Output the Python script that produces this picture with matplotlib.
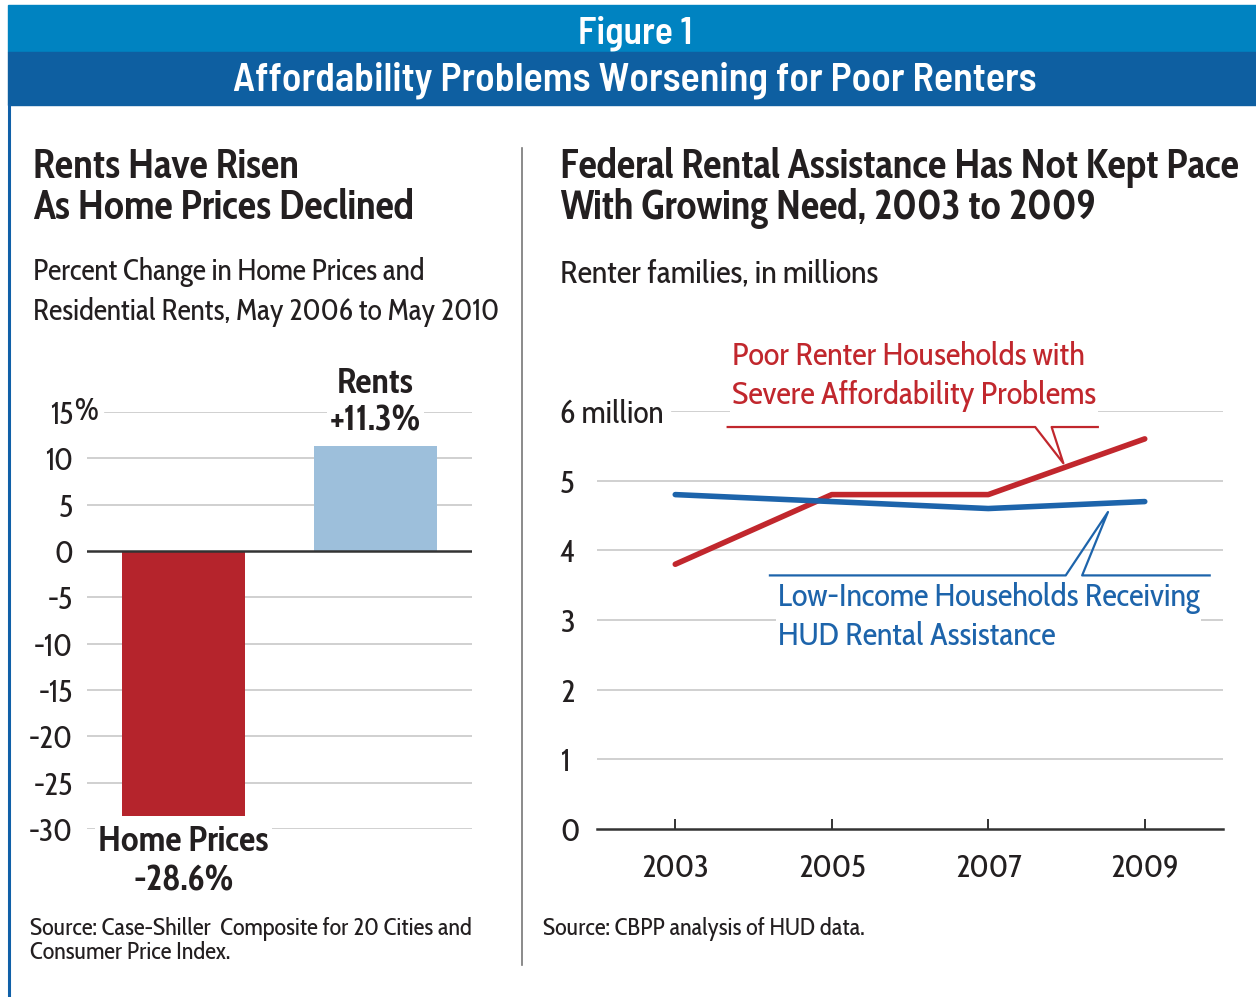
import matplotlib
matplotlib.use("Agg")
import matplotlib.pyplot as plt
from matplotlib.patches import Rectangle
from matplotlib.lines import Line2D

W, H = 1256, 997

# left panel data
bar_names = ["Home Prices", "Rents"]
bar_values = [-28.6, 11.3]
bar_value_labels = ["-28.6%", "+11.3%"]
pct_ticks = [15, 10, 5, 0, -5, -10, -15, -20, -25, -30]

# right panel data
years = [2003, 2005, 2007, 2009]
poor_renters = [3.8, 4.8, 4.8, 5.6]
hud_assisted = [4.8, 4.7, 4.6, 4.7]
mil_ticks = [0, 1, 2, 3, 4, 5, 6]

DARK = "#231f20"
RED = "#c1272d"
BLUE = "#1d64ab"
GRID = "#c8c8c8"
HEAD_FONT = ["Barlow Semi Condensed", "DejaVu Sans"]

plt.rcParams["font.family"] = ["Cabin Condensed", "DejaVu Sans"]


def fx(x):
    return x / W


def fy(y):
    return 1 - y / H


def box(x0, y0, x1, y1):
    # figure-fraction rect from pixel corners
    return [fx(x0), fy(y1), (x1 - x0) / W, (y1 - y0) / H]


fig = plt.figure(figsize=(W / 100, H / 100), dpi=100)

# header bands and frame
fig.patches.append(Rectangle((fx(8), fy(52)), 1, (52 - 5) / H, transform=fig.transFigure,
                             color="#0083c1", zorder=0))
fig.patches.append(Rectangle((fx(8), fy(105)), 1, (105 - 52) / H, transform=fig.transFigure,
                             color="#0e5fa1", zorder=0))
fig.lines.append(Line2D([fx(9), fx(9)], [fy(105), 0], transform=fig.transFigure,
                        color="#1060a8", lw=2.2))
fig.text(fx(635), fy(33), "Figure 1", color="white", fontsize=27, fontweight="semibold",
         family=HEAD_FONT, ha="center", va="center")
fig.text(fx(635), fy(80), "Affordability Problems Worsening for Poor Renters", color="white",
         fontsize=28.8, fontweight="semibold", family=HEAD_FONT, ha="center", va="center")

# divider
fig.lines.append(Line2D([fx(522), fx(522)], [fy(148), fy(965)], transform=fig.transFigure,
                        color="#777777", lw=1.2))

# titles
fig.text(fx(33), fy(147), "Rents Have Risen\nAs Home Prices Declined", color=DARK,
         fontsize=29.5, fontweight="bold", ha="left", va="top", linespacing=1.0)
fig.text(fx(33), fy(257), "Percent Change in Home Prices and\nResidential Rents, May 2006 to May 2010",
         color=DARK, fontsize=21.5, ha="left", va="top", linespacing=1.45)
fig.text(fx(560), fy(147), "Federal Rental Assistance Has Not Kept Pace\nWith Growing Need, 2003 to 2009",
         color=DARK, fontsize=29.5, fontweight="bold", ha="left", va="top", linespacing=1.0)
fig.text(fx(560), fy(258), "Renter families, in millions", color=DARK, fontsize=23.5,
         ha="left", va="top")

# ---------- left: bar chart ----------
ax1 = fig.add_axes(box(87, 412, 472, 829))
xpos = list(range(len(bar_values)))
ax1.bar(xpos, bar_values, width=0.64, color=["#b5242c", "#9dbfdb"], zorder=2)
ax1.set_xlim(-0.5026, 1.5026)
ax1.set_ylim(-30, 15)
for t in pct_ticks:
    if t == 0:
        ax1.axhline(t, color="#333333", lw=1.8, zorder=3)
    elif t == 15:
        ax1.axhline(t, xmin=0.047, color=GRID, lw=1.2, zorder=0)
    else:
        ax1.axhline(t, color=GRID, lw=1.2, zorder=0)
ax1.set_yticks(pct_ticks)
ax1.set_yticklabels([str(t) for t in pct_ticks], fontsize=22.5, color=DARK)
ax1.tick_params(axis="y", length=0, pad=10)
ax1.tick_params(axis="x", length=0, labelbottom=False)
for s in ax1.spines.values():
    s.set_visible(False)
fig.text(fx(74), fy(412), "%", fontsize=22.5, color=DARK, ha="left", va="center")

for x, v, name, lab in zip(xpos, bar_values, bar_names, bar_value_labels):
    if v >= 0:
        ax1.annotate(name + "\n" + lab, (x, v), xytext=(0, 5), textcoords="offset points",
                     ha="center", va="bottom", fontsize=26, fontweight="bold", color=DARK,
                     linespacing=1.05, zorder=5, annotation_clip=False,
                     bbox=dict(fc="white", ec="none", pad=2))
    else:
        ax1.annotate(name + "\n" + lab, (x, v), xytext=(0, -6), textcoords="offset points",
                     ha="center", va="top", fontsize=26, fontweight="bold", color=DARK,
                     linespacing=1.1, zorder=5, annotation_clip=False,
                     bbox=dict(fc="white", ec="none", pad=2))

# ---------- right: line chart ----------
ax2 = fig.add_axes(box(597, 411, 1223, 829))
ax2.set_xlim(2002, 2010)
ax2.set_ylim(0, 6)
for t in mil_ticks:
    if t == 0:
        ax2.axhline(t, color="#333333", lw=1.8, zorder=3, clip_on=False)
    elif t == 6:
        ax2.axhline(t, xmin=0.12, color=GRID, lw=1.2, zorder=0)
    else:
        ax2.axhline(t, color=GRID, lw=1.2, zorder=0)
ax2.plot(years, poor_renters, color=RED, lw=4, solid_capstyle="round", zorder=4)
ax2.plot(years, hud_assisted, color=BLUE, lw=4, solid_capstyle="round", zorder=4)

ax2.set_yticks(mil_ticks)
ax2.set_yticklabels([str(t) if t < 6 else "6 million" for t in mil_ticks], fontsize=23, color=DARK)
ax2.tick_params(axis="y", length=0, pad=26.6)
for lbl in ax2.get_yticklabels():
    lbl.set_horizontalalignment("left")
ax2.set_xticks(years)
ax2.set_xticklabels([str(y) for y in years], fontsize=23, color=DARK)
ax2.tick_params(axis="x", direction="in", length=7, width=1.4, color="#333333", pad=17)
for s in ax2.spines.values():
    s.set_visible(False)

# callouts
ax2.plot([2003.67, 2007.60, 2007.96, 2007.81, 2008.40], [5.77, 5.77, 5.25, 5.77, 5.77],
         color=RED, lw=1.6, zorder=7, clip_on=False)
ax2.plot([2004.21, 2007.99, 2008.53, 2008.20, 2009.83], [3.64, 3.64, 4.55, 3.64, 3.64],
         color=BLUE, lw=1.6, zorder=7, clip_on=False)
ax2.text(2003.73, 5.98, "Poor Renter Households with\nSevere Affordability Problems", color=RED,
         fontsize=23.5, ha="left", va="bottom", linespacing=1.3, zorder=6,
         bbox=dict(fc="white", ec="none", pad=1.5))
ax2.text(2004.31, 3.55, "Low-Income Households Receiving\nHUD Rental Assistance", color=BLUE,
         fontsize=23.5, ha="left", va="top", linespacing=1.3, zorder=6,
         bbox=dict(fc="white", ec="none", pad=1.5))

# sources
fig.text(fx(30), fy(917), "Source: Case-Shiller  Composite for 20 Cities and\nConsumer Price Index.",
         color=DARK, fontsize=17.5, ha="left", va="top", linespacing=1.0)
fig.text(fx(543), fy(917), "Source: CBPP analysis of HUD data.", color=DARK, fontsize=17.5,
         ha="left", va="top")

fig.savefig("out.png", dpi=100)
